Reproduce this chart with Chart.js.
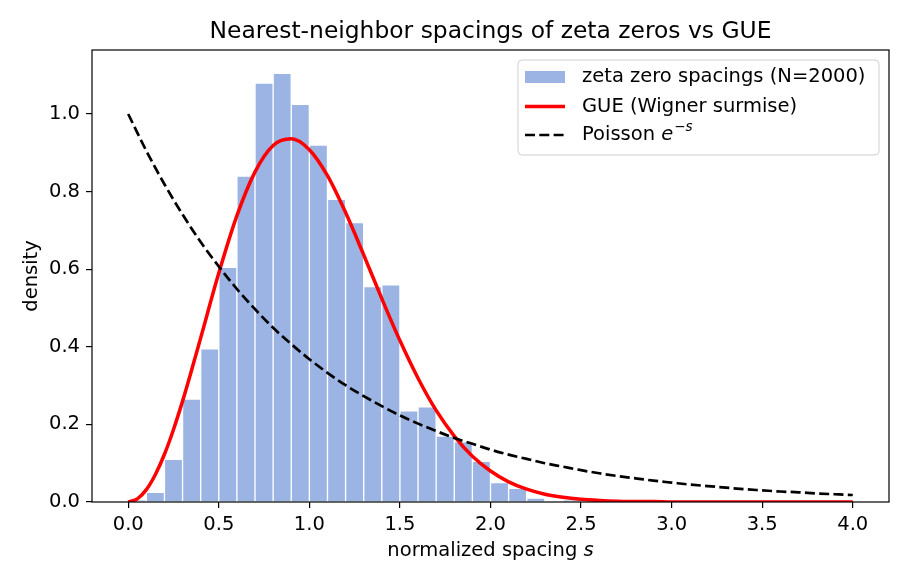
<!DOCTYPE html>
<html>
<head>
<meta charset="utf-8">
<title>Nearest-neighbor spacings of zeta zeros vs GUE</title>
<script src="https://cdn.jsdelivr.net/npm/chart.js@4.4.1/dist/chart.umd.min.js"></script>
<style>
  html, body { margin: 0; padding: 0; background: #fff; }
  #wrap { width: 910px; height: 585px; }
</style>
</head>
<body>
<div id="wrap"><canvas id="spacingChart" width="910" height="585"></canvas></div>
<script>
// histogram bins (centres, width 0.1) and density heights
const binCenters = [0.05, 0.15, 0.25, 0.35, 0.45, 0.55, 0.65, 0.75, 0.85, 0.95,
  1.05, 1.15, 1.25, 1.35, 1.45, 1.55, 1.65, 1.75, 1.85, 1.95,
  2.05, 2.15, 2.25, 2.35, 2.45];
const binDensity = [0.005, 0.025, 0.110, 0.265, 0.395, 0.605, 0.840, 1.080, 1.105, 1.025,
  0.920, 0.780, 0.720, 0.555, 0.560, 0.235, 0.245, 0.170, 0.155, 0.105,
  0.050, 0.035, 0.010, 0, 0.005];

// GUE curve sample points (denser near the origin)
const gueS = [0.0, 0.05, 0.1, 0.15, 0.2, 0.25, 0.3, 0.35, 0.4, 0.5, 0.6, 0.7, 0.8, 0.9,
  1.0, 1.1, 1.2, 1.3, 1.4, 1.5, 1.6, 1.7, 1.8, 1.9,
  2.0, 2.1, 2.2, 2.3, 2.4, 2.5, 2.6, 2.7, 2.8, 2.9,
  3.0, 3.5, 4.0];
const gueValues = [0, 0.008, 0.032, 0.071, 0.123, 0.187, 0.260, 0.340, 0.423, 0.590, 0.738, 0.851, 0.919, 0.936,
  0.908, 0.841, 0.746, 0.637, 0.524, 0.416, 0.319, 0.236, 0.170, 0.118,
  0.080, 0.052, 0.033, 0.020, 0.012, 0.007, 0.004, 0.002, 0.001, 0.001,
  0, 0, 0];

// Poisson curve sample points
const poissonS = [0.0, 0.1, 0.2, 0.3, 0.4, 0.5, 0.6, 0.7, 0.8, 0.9,
  1.0, 1.1, 1.2, 1.3, 1.4, 1.5, 1.6, 1.7, 1.8, 1.9,
  2.0, 2.1, 2.2, 2.3, 2.4, 2.5, 2.6, 2.7, 2.8, 2.9,
  3.0, 3.1, 3.2, 3.3, 3.4, 3.5, 3.6, 3.7, 3.8, 3.9, 4.0];
const poissonValues = [1.000, 0.905, 0.819, 0.741, 0.670, 0.607, 0.549, 0.497, 0.449, 0.407,
  0.368, 0.333, 0.301, 0.273, 0.247, 0.223, 0.202, 0.183, 0.165, 0.150,
  0.135, 0.122, 0.111, 0.100, 0.091, 0.082, 0.074, 0.067, 0.061, 0.055,
  0.050, 0.045, 0.041, 0.037, 0.033, 0.030, 0.027, 0.025, 0.022, 0.020, 0.018];

const xTicks = [0.0, 0.5, 1.0, 1.5, 2.0, 2.5, 3.0, 3.5, 4.0];
const yTicks = [0.0, 0.2, 0.4, 0.6, 0.8, 1.0];

const FONT = '"DejaVu Sans", Verdana, sans-serif';
const FS = 19.5;
const barColor = 'rgb(155,180,227)';

const toPoints = (xs, ys) => xs.map((x, i) => ({ x: x, y: ys[i] }));

// frame, title, axis titles and legend drawn by hand (matplotlib look)
const decorations = {
  id: 'decorations',
  afterDraw(chart) {
    const { ctx, chartArea: a } = chart;
    ctx.save();
    ctx.strokeStyle = '#000';
    ctx.lineWidth = 1.2;
    ctx.strokeRect(a.left, a.top, a.right - a.left, a.bottom - a.top);

    ctx.fillStyle = '#000';
    ctx.textBaseline = 'middle';
    ctx.textAlign = 'center';
    ctx.font = '23.4px ' + FONT;
    ctx.fillText('Nearest-neighbor spacings of zeta zeros vs GUE', (a.left + a.right) / 2, 32);

    // x label with italic s
    ctx.font = FS + 'px ' + FONT;
    const part1 = 'normalized spacing ';
    const w1 = ctx.measureText(part1).width;
    ctx.font = 'italic ' + FS + 'px ' + FONT;
    const w2 = ctx.measureText('s').width;
    let x0 = (a.left + a.right) / 2 - (w1 + w2) / 2;
    ctx.textAlign = 'left';
    ctx.font = FS + 'px ' + FONT;
    ctx.fillText(part1, x0, 551);
    ctx.font = 'italic ' + FS + 'px ' + FONT;
    ctx.fillText('s', x0 + w1, 551);

    // y label
    ctx.save();
    ctx.translate(32, (a.top + a.bottom) / 2);
    ctx.rotate(-Math.PI / 2);
    ctx.textAlign = 'center';
    ctx.font = FS + 'px ' + FONT;
    ctx.fillText('density', 0, 0);
    ctx.restore();

    // legend box
    const lx = 518, ly = 60, lw = 361, lh = 95;
    ctx.beginPath();
    ctx.roundRect(lx, ly, lw, lh, 4);
    ctx.fillStyle = 'rgba(255,255,255,0.8)';
    ctx.fill();
    ctx.strokeStyle = '#d0d0d0';
    ctx.lineWidth = 1;
    ctx.stroke();

    const rows = [77, 106.5, 135];
    const hx = 525, hw = 40, tx = 582;
    ctx.fillStyle = barColor;
    ctx.fillRect(hx, rows[0] - 6, hw, 12);
    ctx.strokeStyle = 'red';
    ctx.lineWidth = 3.5;
    ctx.beginPath(); ctx.moveTo(hx, rows[1]); ctx.lineTo(hx + hw, rows[1]); ctx.stroke();
    ctx.strokeStyle = '#000';
    ctx.lineWidth = 2.7;
    ctx.setLineDash([10, 4.3]);
    ctx.beginPath(); ctx.moveTo(hx, rows[2]); ctx.lineTo(hx + hw, rows[2]); ctx.stroke();
    ctx.setLineDash([]);

    ctx.fillStyle = '#000';
    ctx.textAlign = 'left';
    ctx.font = FS + 'px ' + FONT;
    ctx.fillText('zeta zero spacings (N=2000)', tx, rows[0]);
    ctx.fillText('GUE (Wigner surmise)', tx, rows[1]);
    const pw = ctx.measureText('Poisson ').width;
    ctx.fillText('Poisson ', tx, rows[2]);
    ctx.font = 'italic ' + FS + 'px ' + FONT;
    ctx.fillText('e', tx + pw, rows[2]);
    const ew = ctx.measureText('e').width;
    ctx.font = '13.6px ' + FONT;
    ctx.fillText('\u2212', tx + pw + ew + 1, rows[2] - 7.5);
    const mw = ctx.measureText('\u2212').width;
    ctx.font = 'italic 13.6px ' + FONT;
    ctx.fillText('s', tx + pw + ew + 1 + mw, rows[2] - 7.5);
    ctx.restore();
  }
};

new Chart(document.getElementById('spacingChart'), {
  type: 'bar',
  data: {
    datasets: [
      {
        type: 'line',
        label: 'Poisson e^-s',
        data: toPoints(poissonS, poissonValues),
        borderColor: '#000',
        borderWidth: 2.7,
        borderDash: [10, 4.3],
        pointRadius: 0,
        cubicInterpolationMode: 'monotone',
        fill: false,
        order: 0
      },
      {
        type: 'line',
        label: 'GUE (Wigner surmise)',
        data: toPoints(gueS, gueValues),
        borderColor: 'red',
        borderWidth: 3.5,
        pointRadius: 0,
        cubicInterpolationMode: 'monotone',
        fill: false,
        order: 1
      },
      {
        type: 'bar',
        label: 'zeta zero spacings (N=2000)',
        data: toPoints(binCenters, binDensity),
        backgroundColor: barColor,
        borderColor: '#fff',
        borderWidth: 1,
        barPercentage: 1,
        categoryPercentage: 1,
        order: 2
      }
    ]
  },
  options: {
    responsive: false,
    animation: false,
    devicePixelRatio: 1,
    layout: { padding: { left: 0, right: 21, top: 50, bottom: 0 } },
    plugins: {
      legend: { display: false },
      title: { display: false },
      tooltip: { enabled: false }
    },
    scales: {
      x: {
        type: 'linear',
        min: -0.2,
        max: 4.2,
        offset: false,
        afterBuildTicks: s => { s.ticks = xTicks.map(v => ({ value: v })); },
        afterFit: s => { s.height = 83; },
        grid: { display: true, offset: false, drawOnChartArea: false, drawTicks: true, tickLength: 6, color: '#000', lineWidth: 1.2 },
        border: { display: false },
        ticks: {
          color: '#000',
          padding: 5,
          maxRotation: 0,
          font: { family: FONT, size: FS },
          callback: v => v.toFixed(1)
        }
      },
      y: {
        min: 0,
        max: 1.165,
        afterBuildTicks: s => { s.ticks = yTicks.map(v => ({ value: v })); },
        afterFit: s => { s.width = 92; },
        grid: { display: true, drawOnChartArea: false, drawTicks: true, tickLength: 6, color: '#000', lineWidth: 1.2 },
        border: { display: false },
        ticks: {
          color: '#000',
          padding: 6,
          font: { family: FONT, size: FS },
          callback: v => v.toFixed(1)
        }
      }
    }
  },
  plugins: [decorations]
});
</script>
</body>
</html>
